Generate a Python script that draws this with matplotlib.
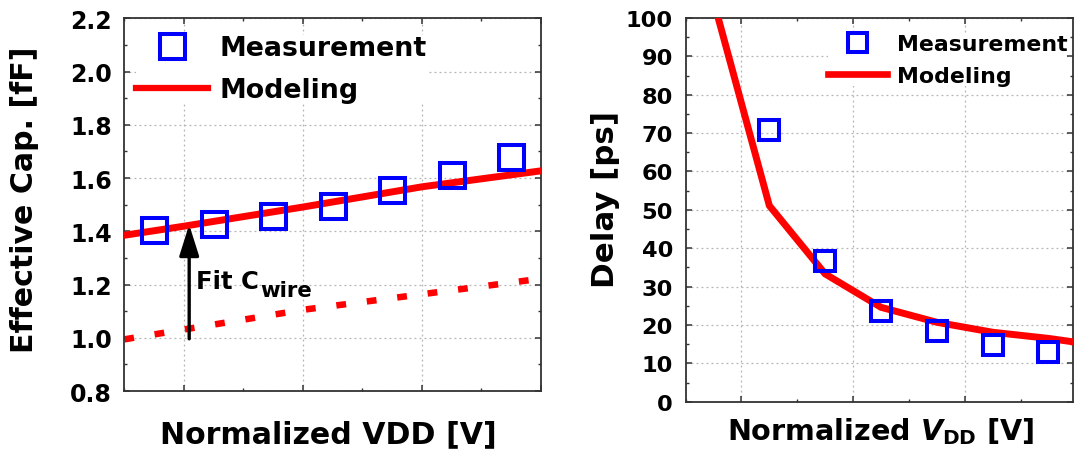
import matplotlib
matplotlib.use("Agg")
import matplotlib.pyplot as plt
from matplotlib.lines import Line2D
from matplotlib.ticker import MultipleLocator, FormatStrFormatter

plt.rcParams['font.family'] = ['DejaVu Sans']
plt.rcParams['font.weight'] = 'bold'
plt.rcParams['mathtext.fontset'] = 'custom'
plt.rcParams['mathtext.rm'] = 'DejaVu Sans:bold'
plt.rcParams['mathtext.it'] = 'DejaVu Sans:italic:bold'
plt.rcParams['mathtext.bf'] = 'DejaVu Sans:bold'

# ---------------- data ----------------
# Left panel: effective capacitance vs normalized VDD
cap_x = [0.75, 1.25, 1.75, 2.25, 2.75, 3.25, 3.75]
cap_meas = [1.403, 1.428, 1.456, 1.496, 1.554, 1.613, 1.680]
cap_model_x = [0.5, 1.0, 2.0, 3.0, 4.0]
cap_model = [1.385, 1.419, 1.491, 1.567, 1.627]
cwire_x = [0.5, 2.0, 4.0]
cwire = [0.994, 1.105, 1.222]
cap_yticks = [0.8, 1.0, 1.2, 1.4, 1.6, 1.8, 2.0, 2.2]

# Right panel: delay vs normalized VDD
delay_x = [1.25, 1.75, 2.25, 2.75, 3.25, 3.75]
delay_meas = [70.9, 36.7, 23.6, 18.3, 14.8, 13.0]
delay_model_x = [0.75, 1.25, 1.75, 2.25, 2.75, 3.25, 3.75, 3.97]
delay_model = [104.5, 51.1, 33.3, 24.6, 20.7, 18.1, 16.5, 15.6]
delay_yticks = [0, 10, 20, 30, 40, 50, 60, 70, 80, 90, 100]

legend_labels = ["Measurement", "Modeling"]

BLUE = '#0000ff'
RED = '#ff0000'
SPINE = '#333333'
GRID = '#b4b4b4'

W, H = 1077, 456
fig = plt.figure(figsize=(W / 100, H / 100), dpi=100)

ax1 = fig.add_axes([124.3 / W, 1 - 392 / H, 416.7 / W, 372.7 / H])
ax2 = fig.add_axes([685.6 / W, 1 - 402.7 / H, 387.4 / W, 383.7 / H])


def style_axes(ax, ysize):
    for sp in ax.spines.values():
        sp.set_color(SPINE)
        sp.set_linewidth(1.3)
    ax.tick_params(which='both', direction='in', top=True, right=True,
                   labelbottom=False, color=SPINE)
    ax.tick_params(which='major', length=4.3, width=1.1, labelsize=ysize, pad=9)
    ax.tick_params(which='minor', length=2.2, width=1.0)
    ax.xaxis.set_major_locator(MultipleLocator(1.0))
    ax.xaxis.set_minor_locator(MultipleLocator(0.5))
    ax.grid(True, which='major', linestyle=(0, (1.5, 2.5)), color=GRID, lw=0.9)
    ax.set_axisbelow(True)
    for lab in ax.get_yticklabels():
        lab.set_fontweight('bold')


# ---------------- left panel ----------------
ax1.plot(cwire_x, cwire, color=RED, lw=4.7, linestyle=(0, (1.5, 3.2)),
         solid_capstyle='butt', dash_capstyle='butt', zorder=2)
ax1.plot(cap_model_x, cap_model, color=RED, lw=5, zorder=3)
ax1.plot(cap_x, cap_meas, ls='none', marker='s', ms=18, mfc='none',
         mec=BLUE, mew=2.9, zorder=4)
ax1.set_xlim(0.5, 4.0)
ax1.set_ylim(0.8, 2.2)
ax1.set_yticks(cap_yticks)
ax1.yaxis.set_minor_locator(MultipleLocator(0.1))
ax1.yaxis.set_major_formatter(FormatStrFormatter('%.1f'))
style_axes(ax1, 17)

ax1.annotate('', xy=(1.045, 1.425), xytext=(1.045, 0.996),
             arrowprops=dict(arrowstyle='-|>,head_length=0.95,head_width=0.3',
                             mutation_scale=20, lw=2.4, color='black',
                             shrinkA=0, shrinkB=0), zorder=5)
ax1.text(1.099, 1.188, "Fit C", fontsize=17.5, fontweight='bold',
         va='baseline', ha='left', zorder=6)
ax1.text(1.638, 1.156, "wire", fontsize=15.3, fontweight='bold',
         va='baseline', ha='left', zorder=6)

h1 = [Line2D([], [], ls='none', marker='s', ms=18, mfc='none', mec=BLUE, mew=2.9),
      Line2D([], [], color=RED, lw=4.5)]
leg1 = ax1.legend(h1, legend_labels, loc='upper left', bbox_to_anchor=(0.029, 0.955),
                  prop={'size': 19.3, 'weight': 'bold'}, handlelength=2.69,
                  handletextpad=0.41, labelspacing=0.61, borderpad=0,
                  borderaxespad=0, markerscale=1.0, frameon=True, framealpha=1,
                  fancybox=False)
leg1.get_frame().set_linewidth(0)
leg1.get_frame().set_facecolor('white')

# ---------------- right panel ----------------
ax2.plot(delay_model_x, delay_model, color=RED, lw=5, zorder=3)
ax2.plot(delay_x, delay_meas, ls='none', marker='s', ms=14.4, mfc='none',
         mec=BLUE, mew=2.9, zorder=4)
ax2.set_xlim(0.5, 3.97)
ax2.set_ylim(0, 100)
ax2.set_yticks(delay_yticks)
ax2.yaxis.set_minor_locator(MultipleLocator(5))
style_axes(ax2, 16.2)

h2 = [Line2D([], [], ls='none', marker='s', ms=14.4, mfc='none', mec=BLUE, mew=2.9),
      Line2D([], [], color=RED, lw=4.8)]
leg2 = ax2.legend(h2, legend_labels, loc='upper left', bbox_to_anchor=(0.367, 0.959),
                  prop={'size': 15.8, 'weight': 'bold'}, handlelength=2.7,
                  handletextpad=0.44, labelspacing=0.55, borderpad=0,
                  borderaxespad=0, markerscale=0.95, frameon=True, framealpha=1,
                  fancybox=False)
leg2.get_frame().set_linewidth(0)
leg2.get_frame().set_facecolor('white')

# ---------------- axis labels ----------------
fig.text(25 / W, 1 - 200 / H, "Effective Cap. [fF]", rotation=90, ha='center',
         va='center', fontsize=21.6, fontweight='bold')
fig.text(328 / W, 13 / H, "Normalized VDD [V]", ha='center', va='baseline',
         fontsize=21.6, fontweight='bold')
fig.text(605 / W, 1 - 200 / H, "Delay [ps]", rotation=90, ha='center',
         va='center', fontsize=22.2, fontweight='bold')
fig.text(880.7 / W, 16 / H, r"Normalized $V_{\mathrm{DD}}$ [V]", ha='center',
         va='baseline', fontsize=20.6, fontweight='bold')

fig.savefig('out.png', dpi=100)
